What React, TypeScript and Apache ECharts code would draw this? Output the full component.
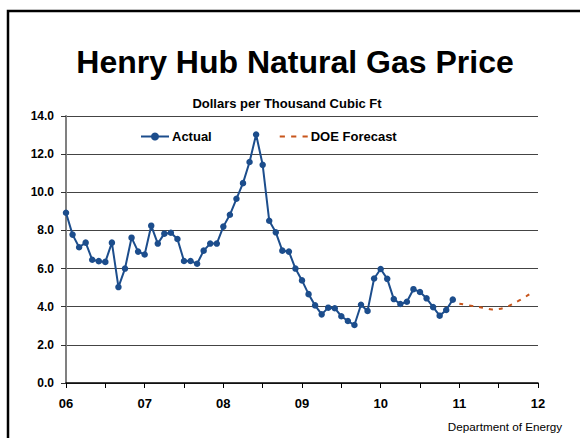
import React, { useEffect, useRef } from "react";
import * as echarts from "echarts";

const yearLabels = ["06", "07", "08", "09", "10", "11", "12"];
const actual2006 = [8.93, 7.78, 7.12, 7.36, 6.46, 6.39, 6.35, 7.36, 5.03, 6.0, 7.62, 6.89];
const actual2007 = [6.74, 8.25, 7.31, 7.83, 7.88, 7.55, 6.4, 6.4, 6.25, 6.94, 7.31, 7.31];
const actual2008 = [8.2, 8.82, 9.66, 10.48, 11.59, 13.03, 11.44, 8.51, 7.9, 6.94, 6.89, 6.0];
const actual2009 = [5.38, 4.66, 4.07, 3.6, 3.95, 3.92, 3.5, 3.25, 3.04, 4.1, 3.78, 5.48];
const actual2010 = [5.98, 5.46, 4.4, 4.14, 4.26, 4.92, 4.77, 4.44, 3.98, 3.53, 3.83, 4.37];
const forecast2011 = [4.16, 4.1, 4.04, 3.98, 3.92, 3.86, 3.88, 3.97, 4.12, 4.3, 4.5, 4.72];
const yTicks = [0, 2, 4, 6, 8, 10, 12, 14];

const FONT = 'Arial, "Liberation Sans", sans-serif';

export default function App() {
  const ref = useRef<HTMLDivElement>(null);
  useEffect(() => {
    if (!ref.current) return;
    const chart = echarts.init(ref.current, undefined, { renderer: "svg" });
    const actual = [...actual2006, ...actual2007, ...actual2008, ...actual2009, ...actual2010];
    const actualData = actual.map((v, i) => [i, v]);
    const forecastData = forecast2011.map((v, i) => [actual.length + i, v]);
    chart.setOption({
      animation: false,
      backgroundColor: "#fff",
      textStyle: { fontFamily: FONT },
      grid: { left: 66, right: 42, top: 116, bottom: 55 },
      graphic: [
        {
          type: "rect",
          shape: { x: 8, y: 11, width: 800, height: 800 },
          style: { fill: "none", stroke: "#000", lineWidth: 2.5 },
          silent: true,
        },
        {
          type: "text",
          x: 295,
          y: 62,
          style: {
            text: "Henry Hub Natural Gas Price",
            font: `bold 32px ${FONT}`,
            fill: "#000",
            textAlign: "center",
            textVerticalAlign: "middle",
          },
        },
        {
          type: "text",
          x: 287,
          y: 103,
          style: {
            text: "Dollars per Thousand Cubic Ft",
            font: `bold 13px ${FONT}`,
            fill: "#000",
            textAlign: "center",
            textVerticalAlign: "middle",
          },
        },
        {
          type: "text",
          x: 505,
          y: 426,
          style: {
            text: "Department of Energy",
            font: `11.7px ${FONT}`,
            fill: "#000",
            textAlign: "center",
            textVerticalAlign: "middle",
          },
        },
      ],
      legend: {
        left: 135,
        top: 125,
        itemWidth: 28,
        itemHeight: 10,
        itemGap: 68,
        textStyle: { fontFamily: FONT, fontSize: 13, fontWeight: "bold", color: "#000", padding: [0, 0, 0, -2] },
        data: [
          { name: "Actual" },
          {
            name: "DOE Forecast",
            icon: "path://M0,4h5v2h-5zM11,4h5v2h-5zM22,4h5v2h-5z",
            itemStyle: { color: "#C8551B" },
          },
        ],
      },
      xAxis: {
        type: "value",
        min: 0,
        max: (yearLabels.length - 1) * 12,
        interval: 6,
        axisLine: { show: true, onZero: false, lineStyle: { color: "#000", width: 1.5 } },
        axisTick: { show: true, length: 5, inside: false, lineStyle: { color: "#000", width: 1 } },
        axisLabel: {
          margin: 14,
          fontFamily: FONT,
          fontSize: 13,
          fontWeight: "bold",
          color: "#000",
          formatter: (v: number) => (v % 12 === 0 ? yearLabels[v / 12] : ""),
        },
        splitLine: { show: false },
      },
      yAxis: {
        type: "value",
        min: yTicks[0],
        max: yTicks[yTicks.length - 1],
        interval: yTicks[1] - yTicks[0],
        axisLine: { show: true, lineStyle: { color: "#808080", width: 2 } },
        axisTick: { show: true, length: 5, lineStyle: { color: "#333", width: 1 } },
        axisLabel: {
          margin: 12,
          fontFamily: FONT,
          fontSize: 12,
          fontWeight: "bold",
          color: "#000",
          formatter: (v: number) => v.toFixed(1),
        },
        splitLine: { show: true, lineStyle: { color: "#444", width: 1 } },
      },
      series: [
        {
          name: "Actual",
          type: "line",
          data: actualData,
          symbol: "circle",
          symbolSize: 6.5,
          itemStyle: { color: "#1C4D8C" },
          lineStyle: { color: "#1C4D8C", width: 2 },
          z: 3,
        },
        {
          name: "DOE Forecast",
          type: "line",
          data: forecastData,
          symbol: "none",
          smooth: true,
          itemStyle: { color: "#C8551B" },
          lineStyle: { color: "#C8551B", width: 2, type: [4, 6] },
          z: 2,
        },
      ],
    });
    return () => chart.dispose();
  }, []);
  return (
    <div
      ref={ref}
      style={{ position: "fixed", left: 0, top: 0, width: 580, height: 438, background: "#fff" }}
    />
  );
}
